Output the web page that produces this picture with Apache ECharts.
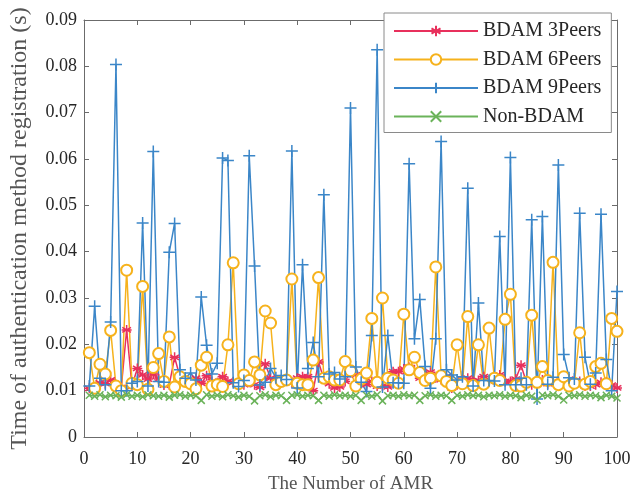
<!DOCTYPE html>
<html>
<head>
<meta charset="utf-8">
<script src="https://cdn.jsdelivr.net/npm/echarts@6/dist/echarts.min.js"></script>
<style>
  html, body { margin: 0; padding: 0; background: #fff; }
  #chart { width: 644px; height: 499px; }
</style>
</head>
<body>
<div id="chart"></div>
<script>
// AMR index on the x axis (1..100)
const amrIndex = Array.from({ length: 100 }, (_, i) => i + 1);

const seriesNames = ['BDAM 3Peers', 'BDAM 6Peers', 'BDAM 9Peers', 'Non-BDAM'];

const xTicks = [0, 10, 20, 30, 40, 50, 60, 70, 80, 90, 100];
const yTicks = [0, 0.01, 0.02, 0.03, 0.04, 0.05, 0.06, 0.07, 0.08, 0.09];

// Registration time (s) per AMR
const bdam3 = [
  0.0105, 0.0106, 0.0117, 0.0115, 0.0123, 0.0113, 0.0107, 0.0231, 0.0110, 0.0148,
  0.0134, 0.0125, 0.0136, 0.0125, 0.0112, 0.0113, 0.0172, 0.0130, 0.0122, 0.0118,
  0.0127, 0.0116, 0.0132, 0.0120, 0.0117, 0.0130, 0.0120, 0.0118, 0.0115, 0.0113,
  0.0118, 0.0113, 0.0107, 0.0158, 0.0127, 0.0120, 0.0118, 0.0122, 0.0117, 0.0127,
  0.0130, 0.0130, 0.0100, 0.0162, 0.0125, 0.0115, 0.0106, 0.0108, 0.0120, 0.0140,
  0.0134, 0.0123, 0.0113, 0.0120, 0.0110, 0.0110, 0.0108, 0.0141, 0.0141, 0.0147,
  0.0150, 0.0145, 0.0127, 0.0130, 0.0140, 0.0128, 0.0124, 0.0130, 0.0106, 0.0113,
  0.0123, 0.0127, 0.0120, 0.0122, 0.0130, 0.0120, 0.0123, 0.0134, 0.0120, 0.0120,
  0.0125, 0.0155, 0.0118, 0.0113, 0.0118, 0.0123, 0.0115, 0.0120, 0.0116, 0.0130,
  0.0125, 0.0118, 0.0120, 0.0110, 0.0110, 0.0113, 0.0118, 0.0118, 0.0112, 0.0106
];

const bdam6 = [
  0.0182, 0.0105, 0.0157, 0.0136, 0.0230, 0.0110, 0.0100, 0.0360, 0.0116, 0.0113,
  0.0325, 0.0103, 0.0150, 0.0180, 0.0120, 0.0216, 0.0108, 0.0130, 0.0120, 0.0115,
  0.0104, 0.0155, 0.0172, 0.0110, 0.0113, 0.0109, 0.0199, 0.0376, 0.0115, 0.0134,
  0.0122, 0.0162, 0.0134, 0.0272, 0.0246, 0.0113, 0.0120, 0.0123, 0.0341, 0.0116,
  0.0113, 0.0113, 0.0166, 0.0344, 0.0127, 0.0130, 0.0123, 0.0123, 0.0163, 0.0143,
  0.0110, 0.0125, 0.0138, 0.0256, 0.0118, 0.0300, 0.0127, 0.0123, 0.0116, 0.0265,
  0.0145, 0.0172, 0.0139, 0.0122, 0.0127, 0.0367, 0.0132, 0.0120, 0.0111, 0.0199,
  0.0115, 0.0260, 0.0111, 0.0199, 0.0114, 0.0235, 0.0127, 0.0122, 0.0254, 0.0308,
  0.0111, 0.0110, 0.0118, 0.0263, 0.0118, 0.0152, 0.0122, 0.0377, 0.0113, 0.0130,
  0.0110, 0.0116, 0.0225, 0.0114, 0.0120, 0.0152, 0.0159, 0.0115, 0.0256, 0.0228
];

const bdam9 = [
  0.0110, 0.0282, 0.0127, 0.0113, 0.0248, 0.0804, 0.0100, 0.0100, 0.0116, 0.0120,
  0.0462, 0.0110, 0.0616, 0.0120, 0.0118, 0.0399, 0.0461, 0.0145, 0.0127, 0.0138,
  0.0123, 0.0302, 0.0198, 0.0136, 0.0159, 0.0602, 0.0597, 0.0117, 0.0109, 0.0122,
  0.0607, 0.0369, 0.0112, 0.0118, 0.0148, 0.0128, 0.0133, 0.0124, 0.0617, 0.0106,
  0.0372, 0.0148, 0.0204, 0.0130, 0.0523, 0.0136, 0.0139, 0.0125, 0.0130, 0.0710,
  0.0151, 0.0118, 0.0098, 0.0219, 0.0836, 0.0108, 0.0219, 0.0117, 0.0117, 0.0116,
  0.0590, 0.0212, 0.0297, 0.0152, 0.0105, 0.0212, 0.0638, 0.0145, 0.0134, 0.0123,
  0.0130, 0.0537, 0.0110, 0.0289, 0.0122, 0.0122, 0.0121, 0.0433, 0.0113, 0.0603,
  0.0113, 0.0127, 0.0113, 0.0469, 0.0082, 0.0476, 0.0114, 0.0129, 0.0587, 0.0178,
  0.0128, 0.0125, 0.0483, 0.0172, 0.0114, 0.0138, 0.0481, 0.0167, 0.0100, 0.0314
];

const nonBdam = [
  0.0090, 0.0088, 0.0091, 0.0087, 0.0090, 0.0089, 0.0086, 0.0091, 0.0088, 0.0090,
  0.0087, 0.0091, 0.0089, 0.0088, 0.0090, 0.0086, 0.0090, 0.0091, 0.0088, 0.0090,
  0.0089, 0.0079, 0.0091, 0.0088, 0.0090, 0.0087, 0.0091, 0.0089, 0.0086, 0.0090,
  0.0088, 0.0078, 0.0089, 0.0091, 0.0087, 0.0090, 0.0089, 0.0079, 0.0090, 0.0091,
  0.0088, 0.0090, 0.0089, 0.0079, 0.0090, 0.0088, 0.0091, 0.0089, 0.0090, 0.0088,
  0.0090, 0.0079, 0.0090, 0.0088, 0.0091, 0.0078, 0.0089, 0.0090, 0.0088, 0.0091,
  0.0089, 0.0090, 0.0079, 0.0089, 0.0091, 0.0088, 0.0090, 0.0089, 0.0079, 0.0090,
  0.0088, 0.0091, 0.0089, 0.0090, 0.0087, 0.0090, 0.0089, 0.0091, 0.0088, 0.0090,
  0.0089, 0.0085, 0.0090, 0.0088, 0.0080, 0.0090, 0.0089, 0.0091, 0.0088, 0.0080,
  0.0090, 0.0089, 0.0091, 0.0088, 0.0090, 0.0089, 0.0085, 0.0090, 0.0088, 0.0084
];

const FONT = '"Liberation Serif", "Times New Roman", serif';
const AXIS_COLOR = '#6b6b6b';
const TEXT_COLOR = '#262626';

// Marker outlines drawn as stroked segments
const SYM_STAR = 'path://M0,-1L0,1M-0.87,-0.5L0.87,0.5M-0.87,0.5L0.87,-0.5M-1,0L1,0';
const SYM_PLUS = 'path://M0,-1L0,1M-1,0L1,0';
const SYM_CROSS = 'path://M-1,-1L1,1M-1,1L1,-1';

function pairs(values) {
  return amrIndex.map((x, i) => [x, values[i]]);
}

function lineSeries(name, values, color, symbol, size, extra) {
  return Object.assign({
    name: name,
    type: 'line',
    data: pairs(values),
    symbol: symbol,
    symbolSize: size,
    symbolKeepAspect: true,
    showSymbol: true,
    lineStyle: { color: color, width: 1.5 },
    itemStyle: { color: color, borderColor: color, borderWidth: 1.5 },
    emphasis: { disabled: true },
    animation: false
  }, extra || {});
}

const chart = echarts.init(document.getElementById('chart'), null, { renderer: 'canvas' });

const baseAxis = {
  axisLine: { show: true, onZero: false, lineStyle: { color: AXIS_COLOR, width: 1 } },
  axisTick: { show: true, inside: true, length: 5, lineStyle: { color: AXIS_COLOR } },
  splitLine: { show: false },
  minorTick: { show: false }
};

chart.setOption({
  animation: false,
  backgroundColor: '#ffffff',
  textStyle: { fontFamily: FONT },
  grid: { left: 82, right: 27, top: 20, bottom: 56, containLabel: false },
  xAxis: [
    Object.assign({}, baseAxis, {
      type: 'value',
      min: xTicks[0],
      max: xTicks[xTicks.length - 1],
      interval: xTicks[1] - xTicks[0],
      position: 'bottom',
      name: 'The Number of AMR',
      nameLocation: 'middle',
      nameGap: 38,
      nameTextStyle: { fontFamily: FONT, fontSize: 19, color: '#555' },
      axisLabel: { fontFamily: FONT, fontSize: 18, color: TEXT_COLOR, margin: 13 }
    }),
    Object.assign({}, baseAxis, {
      type: 'value',
      min: xTicks[0],
      max: xTicks[xTicks.length - 1],
      interval: xTicks[1] - xTicks[0],
      position: 'top',
      axisLabel: { show: false }
    })
  ],
  yAxis: [
    Object.assign({}, baseAxis, {
      type: 'value',
      min: yTicks[0],
      max: yTicks[yTicks.length - 1],
      interval: 0.01,
      position: 'left',
      name: 'Time of authentication method registration (s)',
      nameLocation: 'middle',
      nameGap: 52,
      nameTextStyle: { fontFamily: FONT, fontSize: 24, color: '#555' },
      axisLabel: {
        fontFamily: FONT, fontSize: 18, color: TEXT_COLOR, margin: 7,
        formatter: function (v) { return String(Math.round(v * 100) / 100); }
      }
    }),
    Object.assign({}, baseAxis, {
      type: 'value',
      min: yTicks[0],
      max: yTicks[yTicks.length - 1],
      interval: 0.01,
      position: 'right',
      axisLabel: { show: false }
    })
  ],
  legend: {
    show: true,
    z: 10,
    orient: 'vertical',
    left: 384,
    top: 13,
    width: 230,
    padding: [8, 10, 6, 9],
    itemWidth: 84,
    itemHeight: 13,
    itemGap: 8.5,
    backgroundColor: '#ffffff',
    borderColor: '#8a8a8a',
    borderWidth: 1,
    borderRadius: 0,
    textStyle: { fontFamily: FONT, fontSize: 20, color: TEXT_COLOR, padding: [0, 0, 0, 0] },
    data: seriesNames,
    selectedMode: false
  },
  series: [
    lineSeries(seriesNames[0], bdam3, '#e8305c', SYM_STAR, 10),
    lineSeries(seriesNames[1], bdam6, '#f6b21c', 'emptyCircle', 11),
    lineSeries(seriesNames[2], bdam9, '#3b86c8', SYM_PLUS, 12),
    lineSeries(seriesNames[3], nonBdam, '#6bb35a', SYM_CROSS, 7)
  ]
});
</script>
</body>
</html>
